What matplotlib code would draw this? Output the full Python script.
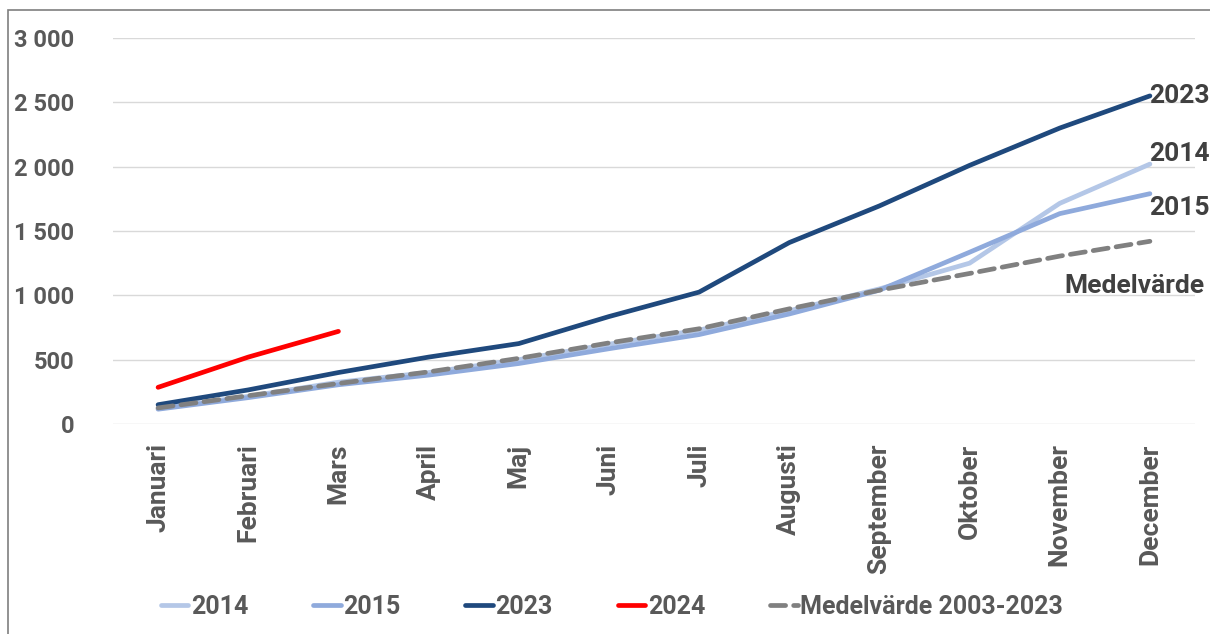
import matplotlib.pyplot as plt
from matplotlib.patches import Rectangle
from matplotlib.ticker import FuncFormatter

plt.rcParams['font.family'] = ['Roboto', 'DejaVu Sans']
plt.rcParams['font.weight'] = 'bold'

months = ['Januari', 'Februari', 'Mars', 'April', 'Maj', 'Juni', 'Juli',
          'Augusti', 'September', 'Oktober', 'November', 'December']
y2014 = [120, 215, 325, 400, 500, 620, 730, 880, 1050, 1250, 1715, 2020]
y2015 = [115, 205, 305, 380, 470, 585, 695, 855, 1040, 1335, 1635, 1790]
y2023 = [150, 265, 400, 520, 625, 835, 1025, 1410, 1695, 2010, 2300, 2550]
y2024 = [285, 520, 720]
medel = [125, 220, 315, 405, 510, 630, 740, 895, 1040, 1170, 1305, 1420]

txt = '#595959'
lw = 3.4
fig = plt.figure(figsize=(12.1, 6.34), dpi=100)
fig.patches.append(Rectangle((8 / 1210, -0.1), 1.2, 1.1 - 10 / 634, transform=fig.transFigure,
                             fill=False, edgecolor='#7f7f7f', linewidth=1.2))
ax = fig.add_axes([113 / 1210, 1 - 424 / 634, 1082 / 1210, 386 / 634])

x = range(len(months))
ax.plot(x, y2014, color='#B4C7E7', lw=lw, label='2014', solid_capstyle='round')
ax.plot(x, y2015, color='#8FAADC', lw=lw, label='2015', solid_capstyle='round')
ax.plot(x, y2023, color='#1F497D', lw=lw, label='2023', solid_capstyle='round')
ax.plot(range(len(y2024)), y2024, color='#FF0000', lw=lw, label='2024', solid_capstyle='round')
ax.plot(x, medel, color='#808080', lw=lw, ls=(0, (3.2, 1.7)), label='Medelvärde 2003-2023',
        dash_capstyle='round')

ax.set_xlim(-0.5, 11.5)
ax.set_ylim(0, 3000)
ax.set_yticks(range(0, 3001, 500))
ax.yaxis.set_major_formatter(FuncFormatter(lambda v, p: f'{int(v):,}'.replace(',', ' ')))
ax.set_xticks(list(x))
ax.set_xticklabels(months, rotation=90, va='top', ha='center')
ax.tick_params(length=0, labelcolor=txt)
ax.tick_params(axis='y', pad=28, labelsize=17)
ax.tick_params(axis='x', pad=14, labelsize=19)
for lbl in ax.get_xticklabels() + ax.get_yticklabels():
    lbl.set_fontweight('bold')
ax.grid(axis='y', color='#D9D9D9', lw=1)
ax.set_axisbelow(True)
for s in ax.spines.values():
    s.set_visible(False)

# series labels at the right end
lab = dict(fontsize=19, color='#404040', fontweight='bold', va='center', clip_on=False)
ax.text(10.99, y2023[-1], '2023', ha='left', **lab)
ax.text(10.99, y2014[-1] + 80, '2014', ha='left', **lab)
ax.text(10.99, y2015[-1] - 110, '2015', ha='left', **lab)
ax.text(11.6, medel[-1] - 350, 'Medelvärde', ha='right', **lab)

ax.legend(loc='center', bbox_to_anchor=(0.461, (607 - 424) / -386), ncol=5, frameon=False,
          labelcolor=txt, handlelength=1.1, handletextpad=0.1, columnspacing=2.6,
          prop={'weight': 'bold', 'size': 18})

fig.savefig('out.png', dpi=100)
